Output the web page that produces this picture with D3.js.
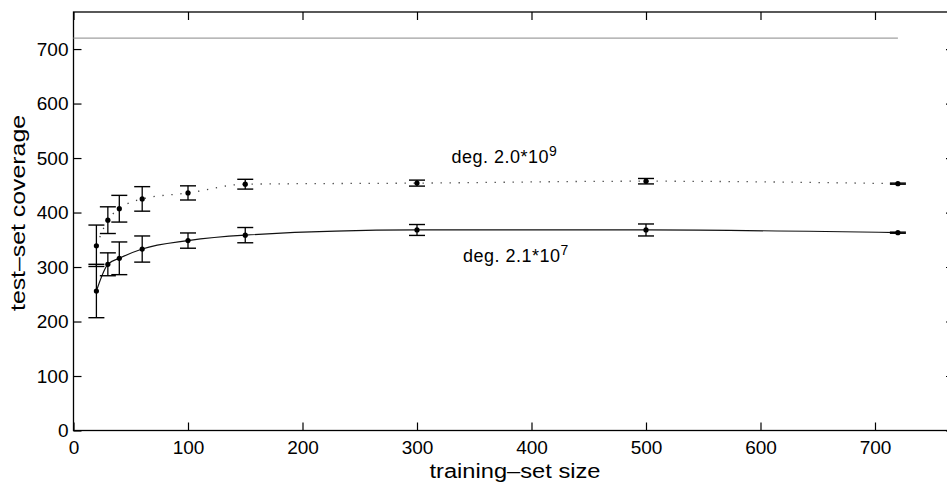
<!DOCTYPE html>
<html>
<head>
<meta charset="utf-8">
<script src="https://cdn.jsdelivr.net/npm/d3@7"></script>
<style>
  body { margin: 0; background: #fff; }
  svg { display: block; font-family: "Liberation Sans", Arial, sans-serif; }
</style>
</head>
<body>
<div id="chart"></div>
<script>
// training-set sizes used for both curves
const sizes = [20, 30, 40, 60, 100, 150, 300, 500, 720];

// deg. 2.1*10^7 (solid)
const coverageLow = [256, 305, 316, 333, 348.5, 358.5, 368, 368, 363];
const errorLow = [49, 21, 30, 24, 14, 14, 10, 11, 1];

// deg. 2.0*10^9 (dotted)
const coverageHigh = [339, 386, 407, 425, 436, 452, 454, 457.5, 453];
const errorHigh = [38, 24.5, 24.5, 22.5, 13, 9, 5.5, 5, 1];

// total test-set size reference line
const totalSize = 720;

const xTicks = [0, 100, 200, 300, 400, 500, 600, 700];
const yTicks = [0, 100, 200, 300, 400, 500, 600, 700];

const width = 947, height = 483;
const plotLeft = 73.5, plotRight = 954, plotTop = 12, plotBottom = 430.5;

const svg = d3.select("#chart").append("svg")
    .attr("width", width)
    .attr("height", height);

const x = d3.scaleLinear().domain([0, 769]).range([plotLeft, plotRight]);
const y = d3.scaleLinear().domain([0, 768]).range([plotBottom, plotTop]);

// axes with inward ticks on all four sides
const gx = svg.append("g")
    .attr("transform", `translate(0,${plotBottom})`)
    .call(d3.axisBottom(x).tickValues(xTicks).tickSizeInner(-8).tickSizeOuter(0).tickPadding(10));
const gxTop = svg.append("g")
    .attr("transform", `translate(0,${plotTop})`)
    .call(d3.axisTop(x).tickValues(xTicks).tickSizeInner(-8).tickSizeOuter(0).tickFormat(""));
const gy = svg.append("g")
    .attr("transform", `translate(${plotLeft},0)`)
    .call(d3.axisLeft(y).tickValues(yTicks).tickSizeInner(-8).tickSizeOuter(0).tickPadding(5));
const gyRight = svg.append("g")
    .attr("transform", `translate(${plotRight},0)`)
    .call(d3.axisRight(y).tickValues(yTicks).tickSizeInner(-8).tickSizeOuter(0).tickFormat(""));

[gx, gxTop, gy, gyRight].forEach(g => {
    g.select(".domain").remove();
    g.selectAll(".tick line").attr("stroke", "#000").attr("stroke-width", 1.2);
    g.selectAll("text")
        .attr("fill", "#000")
        .style("font-size", "19px")
        .style("font-family", "'Liberation Sans', Arial, sans-serif");
});

// frame
svg.append("rect")
    .attr("x", plotLeft).attr("y", plotTop)
    .attr("width", plotRight - plotLeft).attr("height", plotBottom - plotTop)
    .attr("fill", "none")
    .attr("stroke", "#000")
    .attr("stroke-width", 1.3);

// reference line
svg.append("line")
    .attr("x1", x(0)).attr("x2", x(totalSize))
    .attr("y1", y(totalSize)).attr("y2", y(totalSize))
    .attr("stroke", "#a0a0a0")
    .attr("stroke-width", 1.2);

const line = d3.line()
    .x((d, i) => x(sizes[i]))
    .y(d => y(d))
    .curve(d3.curveMonotoneX);

svg.append("path")
    .attr("d", line(coverageHigh))
    .attr("fill", "none")
    .attr("stroke", "#444")
    .attr("stroke-width", 1.3)
    .attr("stroke-dasharray", "1.3,7.7");

svg.append("path")
    .attr("d", line(coverageLow))
    .attr("fill", "none")
    .attr("stroke", "#111")
    .attr("stroke-width", 1.2);

// error bars + markers
function drawSeries(values, errors) {
    const g = svg.append("g");
    const capW = 8;
    values.forEach((v, i) => {
        const cx = x(sizes[i]);
        const y0 = y(v - errors[i]), y1 = y(v + errors[i]);
        g.append("line").attr("x1", cx).attr("x2", cx).attr("y1", y0).attr("y2", y1)
            .attr("stroke", "#000").attr("stroke-width", 1.3);
        [y0, y1].forEach(yy => {
            g.append("line").attr("x1", cx - capW).attr("x2", cx + capW).attr("y1", yy).attr("y2", yy)
                .attr("stroke", "#000").attr("stroke-width", 1.4);
        });
        g.append("circle").attr("cx", cx).attr("cy", y(v)).attr("r", 2.6).attr("fill", "#000");
    });
}
drawSeries(coverageLow, errorLow);
drawSeries(coverageHigh, errorHigh);

// curve labels
function degLabel(px, py, base, exp) {
    const t = svg.append("text")
        .attr("x", px).attr("y", py)
        .style("font-size", "18px")
        .style("letter-spacing", "0.5px")
        .attr("fill", "#000");
    t.append("tspan").text(base);
    t.append("tspan").attr("dy", -7).style("font-size", "14px").text(exp);
}
degLabel(451.5, 162.5, "deg. 2.0*10", "9");
degLabel(463, 262, "deg. 2.1*10", "7");

// axis titles
svg.append("text")
    .attr("x", 515).attr("y", 477.5)
    .attr("text-anchor", "middle")
    .attr("textLength", 171)
    .attr("lengthAdjust", "spacingAndGlyphs")
    .style("font-size", "19.5px")
    .attr("fill", "#000")
    .text("training\u2013set size");

svg.append("text")
    .attr("transform", "translate(25,213) rotate(-90)")
    .attr("text-anchor", "middle")
    .attr("textLength", 196)
    .attr("lengthAdjust", "spacingAndGlyphs")
    .style("font-size", "20px")
    .attr("fill", "#000")
    .text("test\u2013set coverage");
</script>
</body>
</html>
